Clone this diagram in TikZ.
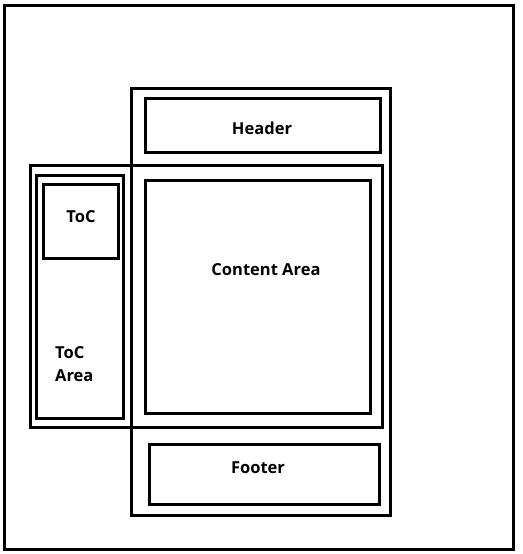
\documentclass[tikz,border=0pt]{standalone}
\usepackage{fontspec}
\setmainfont{Open Sans}
\usepackage{tikz}
\usetikzlibrary{positioning}

\begin{document}
\begin{tikzpicture}[
    x=1pt, y=-1pt,
    box/.style={draw, line width=3pt, inner sep=0pt},
    label/.style={font=\bfseries\fontsize{16.5}{23}\selectfont, inner sep=0pt}
]
\useasboundingbox (0,0) rectangle (522,554);

% Page frame
\node[box, minimum width=509pt, minimum height=544pt] (page) at (258.5, 277) {};

% Main column
\node[box, minimum width=259pt, minimum height=426.8pt] (column) at (261, 301.9) {};
\node[box, minimum width=235pt, minimum height=54.5pt] (header) at (263, 125.25) {};

% Middle row
\node[box, minimum width=352.5pt, minimum height=262.5pt] (middle) at (206.25, 296.25) {};
\node[box, minimum width=86.6pt, minimum height=243.3pt] (tocarea) at (80, 296.7) {};
\node[box, minimum width=74.3pt, minimum height=74pt] (toc) at (80.85, 221.7) {};
\node[box, minimum width=225.3pt, minimum height=233.5pt] (content) at (258.15, 296.75) {};

% Footer
\node[box, minimum width=230.2pt, minimum height=60pt] (footer) at (264.6, 474.7) {};

% Labels
\node[label] (headerlabel) at (262, 128) {Header};
\node[label] (toclabel) at (81, 217) {ToC};
\node[label] (contentlabel) at (266, 270) {Content Area};
\node[label, align=left, anchor=west] (tocarealabel) at (55, 364.5) {ToC\\Area};
\node[label] (footerlabel) at (258, 468) {Footer};

\end{tikzpicture}
\end{document}
